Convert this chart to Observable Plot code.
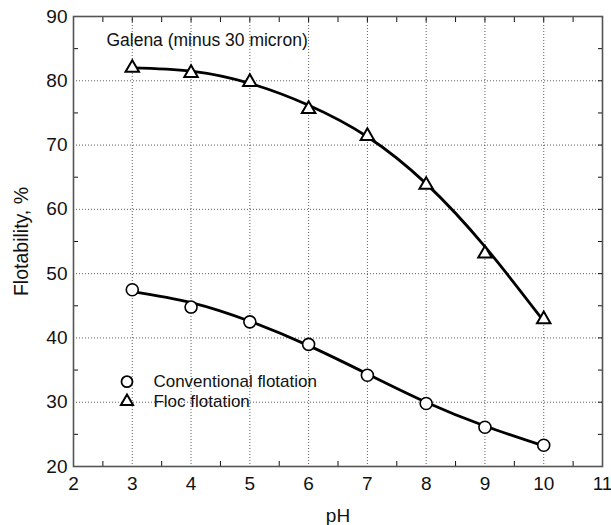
<!DOCTYPE html>
<html>
<head>
<meta charset="utf-8">
<script src="https://cdn.jsdelivr.net/npm/d3@7"></script>
<script src="https://cdn.jsdelivr.net/npm/@observablehq/plot@0.6"></script>
<style>
  html, body { margin: 0; padding: 0; background: #fff; }
  svg { font-family: "Liberation Sans", Arial, Helvetica, sans-serif; }
</style>
</head>
<body>
<div id="chart"></div>
<script>
// Measured points
const pH = [3, 4, 5, 6, 7, 8, 9, 10];
const conventional = [47.5, 44.8, 42.5, 39.0, 34.2, 29.8, 26.1, 23.3];
const floc = [82.0, 81.2, 79.8, 75.6, 71.4, 63.8, 53.1, 42.9];
// Fitted curves
const conventionalFit = [47.2, 45.5, 42.6, 38.8, 34.4, 30.0, 26.3, 23.2];
const flocFit = [82.0, 81.5, 79.6, 76.2, 71.3, 64.0, 54.2, 42.6];
// Axis ticks
const xTicks = [2, 3, 4, 5, 6, 7, 8, 9, 10, 11];
const yTicks = [20, 30, 40, 50, 60, 70, 80, 90];
const xMinor = [2.5, 3.5, 4.5, 5.5, 6.5, 7.5, 8.5, 9.5, 10.5];
const yMinor = [25, 35, 45, 55, 65, 75, 85];
const xGrid = [3, 4, 5, 6, 7, 8, 9, 10];
const yGrid = [30, 40, 50, 60, 70, 80];
const xLabel = "pH";
const yLabel = "Flotability, %";
// Annotation & legend
const titleText = "Galena (minus 30 micron)";
const titlePos = {x: 2.56, y: 86.3};
const legendLabels = ["Conventional flotation", "Floc flotation"];
const legendSymbols = ["circle", "triangle"];
const legendY = [33.2, 30.1];
const legendSymbolX = 2.91;
const legendTextX = 3.36;

const pts = (ys) => pH.map((x, i) => ({x, y: ys[i]}));
const legend = legendLabels.map((label, i) => ({label, symbol: legendSymbols[i], y: legendY[i]}));

const chart = Plot.plot({
  width: 611,
  height: 525,
  marginLeft: 73,
  marginRight: 9,
  marginTop: 16,
  marginBottom: 59,
  style: {fontFamily: '"Liberation Sans", Arial, sans-serif', fontSize: "19px", color: "#111", background: "#fff"},
  x: {domain: [2, 11]},
  y: {domain: [20, 90]},
  marks: [
    // grid
    Plot.ruleX(xGrid, {stroke: "#333", strokeWidth: 0.8, strokeDasharray: "1,2"}),
    Plot.ruleY(yGrid, {stroke: "#333", strokeWidth: 0.8, strokeDasharray: "1,2"}),
    // axes tick labels
    Plot.axisX(xTicks, {anchor: "bottom", tickSize: 0, tickPadding: 10, fontSize: 19, label: null}),
    Plot.axisY(yTicks, {anchor: "left", tickSize: 0, tickPadding: 6, fontSize: 19, label: null}),
    // axis titles
    Plot.text([xLabel], {frameAnchor: "bottom", textAnchor: "middle", dy: 55, text: d => d, fontSize: 19, fill: "#111"}),
    Plot.text([yLabel], {frameAnchor: "left", textAnchor: "middle", dx: -52, rotate: -90, text: d => d, fontSize: 19.5, fill: "#111"}),
    // minor ticks (inside)
    Plot.axisX(xMinor, {anchor: "bottom", tickSize: -5, tickFormat: () => "", label: null}),
    Plot.axisX(xMinor, {anchor: "top", tickSize: -5, tickFormat: () => "", label: null}),
    Plot.axisX(xTicks, {anchor: "top", tickSize: -5, tickFormat: () => "", label: null}),
    Plot.axisY(yMinor, {anchor: "left", tickSize: -5, tickFormat: () => "", label: null}),
    Plot.axisY(yMinor, {anchor: "right", tickSize: -5, tickFormat: () => "", label: null}),
    Plot.axisY(yTicks, {anchor: "right", tickSize: -5, tickFormat: () => "", label: null}),
    // frame
    Plot.frame({stroke: "#555", strokeWidth: 1.6}),
    // curves
    Plot.line(pts(conventionalFit), {x: "x", y: "y", curve: "natural", stroke: "#000", strokeWidth: 2.8}),
    Plot.line(pts(flocFit), {x: "x", y: "y", curve: "natural", stroke: "#000", strokeWidth: 2.8}),
    // points
    Plot.dot(pts(conventional), {x: "x", y: "y", symbol: "circle", r: 6, fill: "#fff", stroke: "#000", strokeWidth: 1.6}),
    Plot.dot(pts(floc), {x: "x", y: "y", symbol: "triangle", r: 5, fill: "#fff", stroke: "#000", strokeWidth: 2}),
    // annotation
    Plot.text([titleText], {x: titlePos.x, y: titlePos.y, text: d => d, textAnchor: "start", fontSize: 17.5, fill: "#111"}),
    // legend
    Plot.dot(legend.filter(d => d.symbol === "circle"), {x: legendSymbolX, y: "y", symbol: "symbol", r: 5.5, fill: "#fff", stroke: "#000", strokeWidth: 1.8}),
    Plot.dot(legend.filter(d => d.symbol === "triangle"), {x: legendSymbolX, y: "y", symbol: "symbol", r: 4.5, fill: "#fff", stroke: "#000", strokeWidth: 2}),
    Plot.text(legend, {x: legendTextX, y: "y", text: "label", textAnchor: "start", fontSize: 17, fill: "#111"})
  ]
});
document.getElementById("chart").appendChild(chart);
</script>
</body>
</html>
